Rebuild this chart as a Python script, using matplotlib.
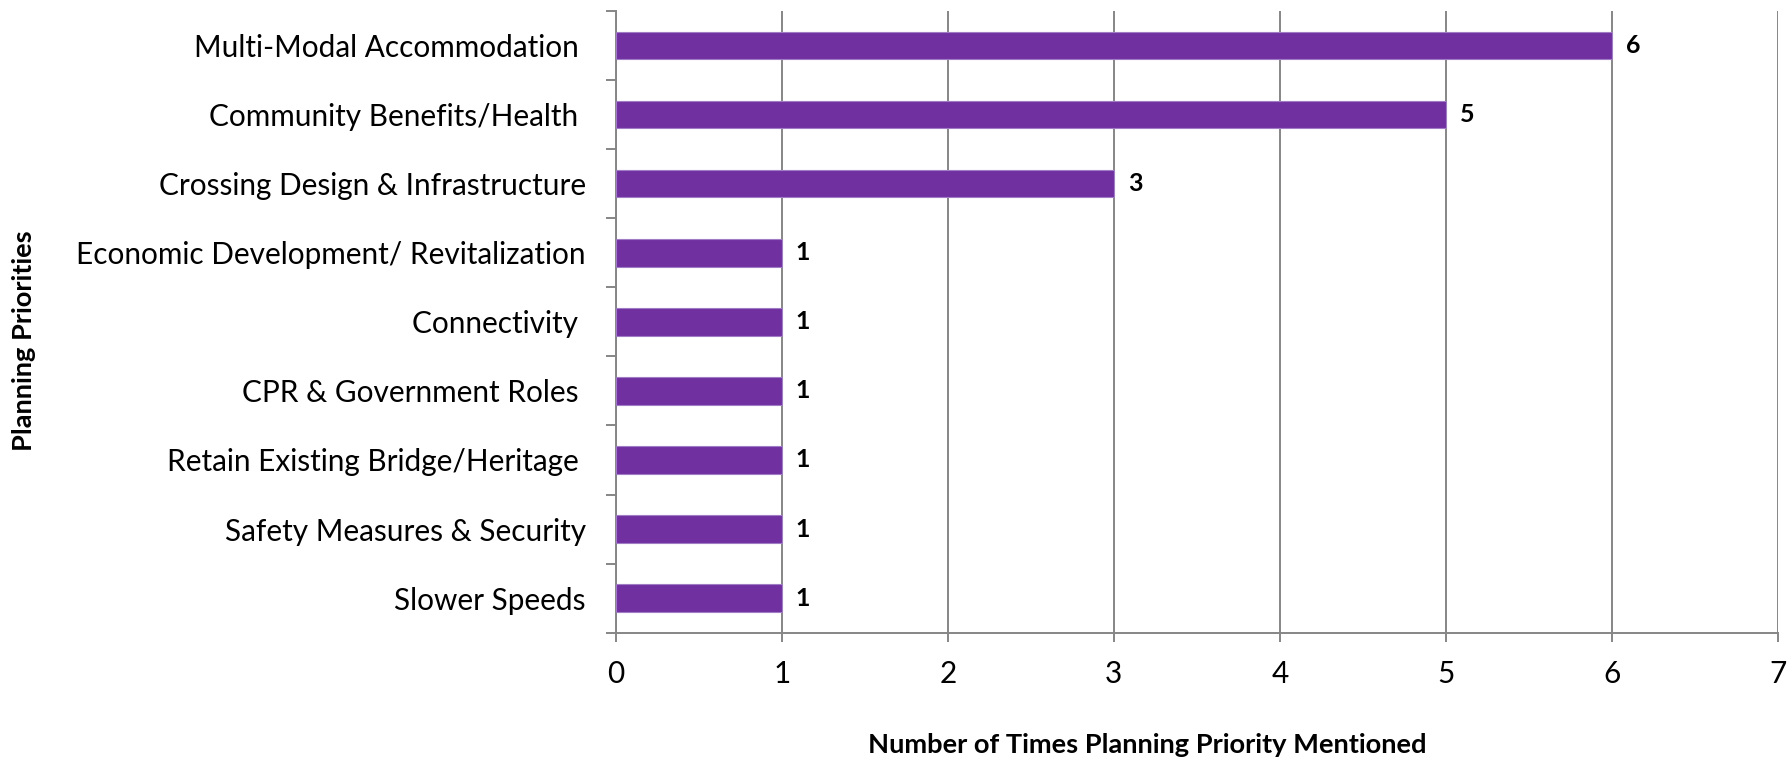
import matplotlib.pyplot as plt
import numpy as np

categories = [
    'Multi-Modal Accommodation ',
    'Community Benefits/Health ',
    'Crossing Design & Infrastructure',
    'Economic Development/ Revitalization',
    'Connectivity ',
    'CPR & Government Roles ',
    'Retain Existing Bridge/Heritage ',
    'Safety Measures & Security',
    'Slower Speeds',
]
counts = [6, 5, 3, 1, 1, 1, 1, 1, 1]
x_ticks = [0, 1, 2, 3, 4, 5, 6, 7]

plt.rcParams['font.family'] = ['Lato', 'DejaVu Sans']

grey = '#868686'
purple = '#7030A0'


def main():
    fig = plt.figure(figsize=(17.9, 7.63), dpi=100)
    ax = fig.add_axes([0.344, 0.1708, 0.6493, 0.8148])

    y = np.arange(len(categories))
    ax.barh(y, counts, height=0.4, color=purple, edgecolor='#a07cc5', linewidth=0.8, zorder=3)
    for yi, v in zip(y, counts):
        ax.annotate(str(v), (v, yi), xytext=(10, 0), textcoords='offset points',
                    ha='left', va='center', fontsize=18, fontweight='bold', color='black')

    ax.set_ylim(len(categories) - 0.5, -0.5)
    ax.set_xlim(0, 7)
    ax.set_xticks(x_ticks)
    ax.set_yticks(y)
    ax.set_yticklabels(categories)
    ax.set_yticks(np.arange(len(categories) + 1) - 0.5, minor=True)

    ax.tick_params(axis='y', which='major', length=0, pad=21.5, labelsize=21.4)
    ax.tick_params(axis='y', which='minor', length=7, width=1.4, color=grey)
    ax.tick_params(axis='x', length=6.5, width=1.4, color=grey, pad=13, labelsize=21.4)

    ax.grid(axis='x', color=grey, linewidth=1.4, zorder=0)
    for side in ['top', 'right']:
        ax.spines[side].set_visible(False)
    for side in ['left', 'bottom']:
        ax.spines[side].set_color(grey)
        ax.spines[side].set_linewidth(1.4)

    fig.text(0.641, 0.024, 'Number of Times Planning Priority Mentioned',
             ha='center', va='center', fontsize=19.6, fontweight='bold')
    fig.text(0.0134, 0.554, 'Planning Priorities', rotation=90,
             ha='center', va='center', fontsize=19.6, fontweight='bold')

    fig.savefig('out.png', dpi=100)


if __name__ == "__main__":
    main()
